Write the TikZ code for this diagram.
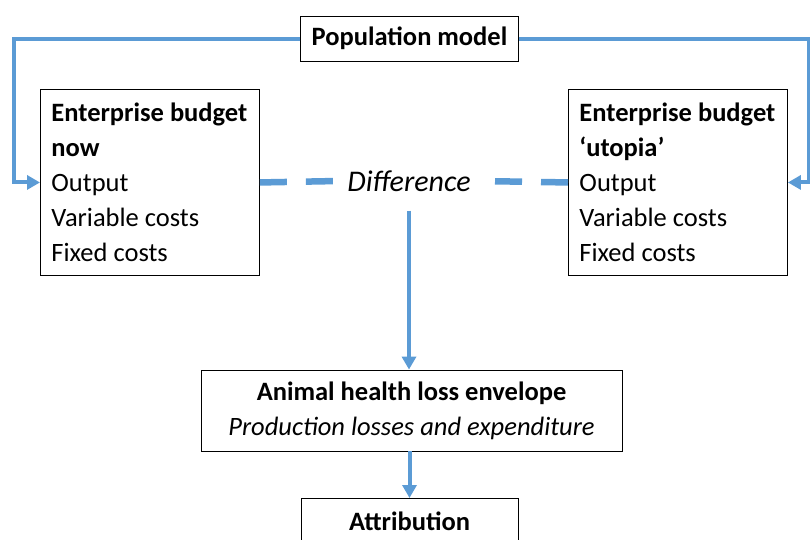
\documentclass[tikz,border=0pt]{standalone}
\usepackage{fontspec}
\setmainfont{Carlito}
\usepackage{xcolor}
\usetikzlibrary{arrows.meta,positioning}
\definecolor{flowblue}{HTML}{5B9BD5}
\tikzset{>={Triangle[length=13pt,width=14pt]}}
\tikzset{
    box/.style={draw=black, line width=0.9pt, fill=white, inner xsep=11pt, inner ysep=0pt,
        font=\fontsize{26.5}{35}\selectfont},
    budget/.style={box, anchor=north west, minimum width=219pt, minimum height=186pt,
        text width=197pt, align=left,
        execute at begin node={\spaceskip=0pt\xspaceskip=0pt}},
    flow/.style={draw=flowblue, line width=4pt},
    diffdash/.style={draw=flowblue, line width=6.5pt, dash pattern=on 27pt off 19pt},
}

\begin{document}
\begin{tikzpicture}[x=1pt, y=-1pt]
        \clip (0,0) rectangle (810,539);

        % population model
        \node[box, minimum width=217pt, minimum height=45pt] (pop) at (409.5,38.5)
            {\textbf{Population model}};

        % budgets
        \node[budget] (now) at (40,89)
            {\textbf{Enterprise budget}\\ \textbf{now}\\ Output\\ Variable costs\\ Fixed costs};
        \node[budget] (utopia) at (568,89)
            {\textbf{Enterprise budget}\\ \textbf{`utopia'}\\ Output\\ Variable costs\\ Fixed costs};

        \node[font=\fontsize{30}{34}\selectfont\itshape, inner sep=9pt] (diff) at (409,181) {Difference};

        % loss envelope
        \node[box, minimum width=421pt, minimum height=81pt, align=center] (env) at (411.5,410.5)
            {\textbf{Animal health loss envelope}\\ \textit{Production losses and expenditure}};

        \node[box, anchor=north, minimum width=217pt, minimum height=46pt] (attr) at (409.5,498)
            {\textbf{Attribution}};

        % feedback loop
        \draw[flow, ->] (pop.west) -| ([xshift=-26pt]now.west) -- (now.west);
        \draw[flow, ->] (pop.east) -| ([xshift=21pt]utopia.east) -- (utopia.east);

        % difference
        \draw[diffdash] (now.east) -- (diff.west);
        \draw[diffdash] (utopia.west) -- (diff.east);

        \draw[flow, ->, shorten <=10pt] (diff.south) -- (diff.south |- env.north);
        \draw[flow, ->] (env.south -| attr.north) -- (attr.north);
    \end{tikzpicture}
\end{document}
